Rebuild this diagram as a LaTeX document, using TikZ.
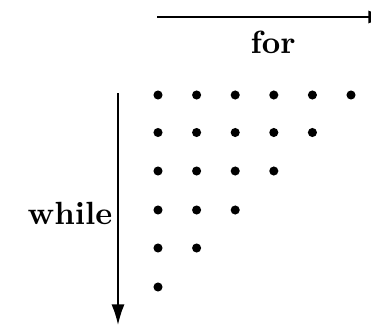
\documentclass[tikz,border=0pt]{standalone}
\usetikzlibrary{arrows.meta}
\begin{document}
\begin{tikzpicture}[x=0.33pt,y=-0.33pt,
  dot/.style={circle,fill=black,inner sep=0pt,minimum size=3pt},
  lbl/.style={font=\fontsize{10.6}{13}\selectfont\bfseries,inner sep=0pt},
  arr/.style={line width=0.5pt,-{Latex[length=6.8pt,width=4.3pt]}}]
\clip (0,0) rectangle (371,324);
\useasboundingbox (0,0) rectangle (371,324);
\coordinate (fs) at (157,17);
\coordinate (fe) at (389,17);
\coordinate (ws) at (118,93);
\coordinate (we) at (118,325);
\draw[arr] (fs) -- (fe);
\draw[arr] (ws) -- (we);
\node[lbl] (for) at (273,42) {for};
\node[lbl] (while) at (70,213) {while};
\foreach \r/\y in {0/95,1/132.5,2/171,3/210,4/248,5/287}{
  \pgfmathtruncatemacro{\n}{5-\r}
  \foreach \c in {0,...,\n}{
    \node[dot] (d\r\c) at ({158+38.6*\c},\y) {};
  }
}
\end{tikzpicture}
\end{document}
